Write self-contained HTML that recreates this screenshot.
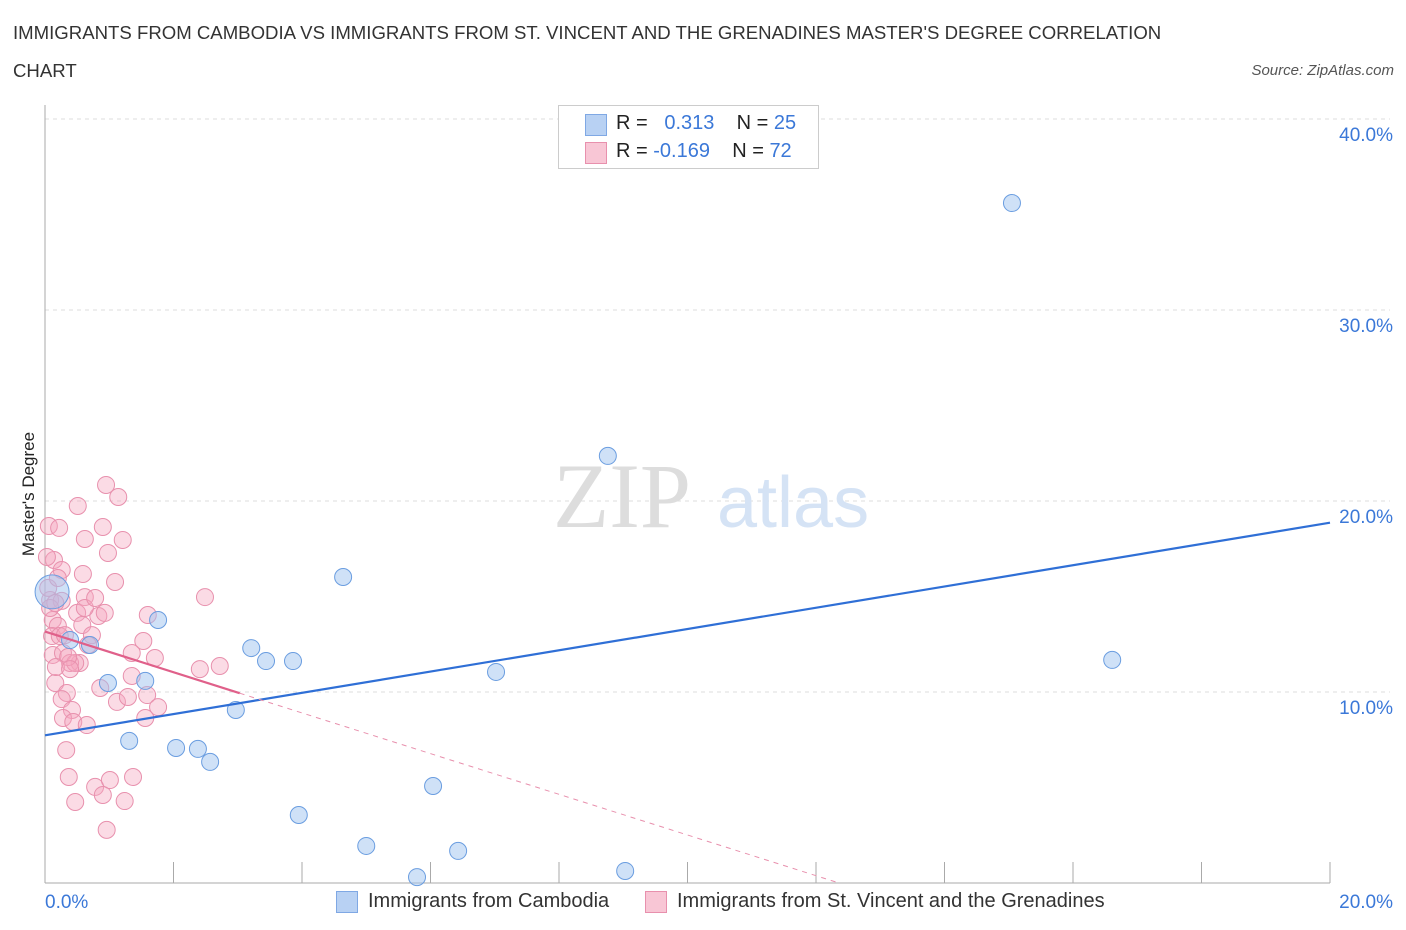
<!DOCTYPE html>
<html><head><meta charset="utf-8"><style>
body{margin:0;background:#fff;font-family:"Liberation Sans",sans-serif;}
#wrap{position:relative;width:1406px;height:930px;overflow:hidden}
.t{position:absolute;white-space:nowrap}
</style></head><body><div id="wrap">
<div class="t" style="left:13px;top:14px;font-size:18.6px;color:#333;line-height:38px">IMMIGRANTS FROM CAMBODIA VS IMMIGRANTS FROM ST. VINCENT AND THE GRENADINES MASTER'S DEGREE CORRELATION<br>CHART</div>
<div class="t" style="right:12px;top:62px;font-size:15px;color:#555;font-style:italic">Source: ZipAtlas.com</div>
<svg id="svg" width="1406" height="930" style="position:absolute;left:0;top:0"></svg>
</div>
<script>
const blueX=[0.11,0.39,0.70,0.98,1.76,1.56,1.31,2.04,2.38,2.57,2.97,3.21,3.44,3.86,4.64,3.95,5.00,5.79,6.04,6.43,7.02,8.76,9.03,15.05,16.61];
const blueY=[15.24,12.72,12.46,10.47,13.77,10.58,7.44,7.07,7.02,6.34,9.06,12.30,11.62,11.62,16.02,3.56,1.94,0.31,5.08,1.68,11.05,22.36,0.63,35.60,11.68];
const pinkX=[0.95,1.14,0.51,0.06,0.22,0.90,0.62,1.21,0.98,0.14,0.26,0.59,1.09,2.49,0.08,0.62,0.26,0.83,1.60,0.50,0.12,0.20,0.58,0.73,0.11,1.53,1.35,1.71,0.12,0.28,0.54,0.39,2.41,2.72,0.16,1.35,0.34,0.26,1.12,1.29,1.59,1.76,0.42,0.28,0.44,0.65,1.56,0.33,0.37,0.78,1.01,1.37,0.90,1.24,0.47,0.96,0.08,0.16,0.23,0.05,0.47,0.36,0.17,0.62,0.93,0.78,0.39,0.03,0.20,0.67,0.31,0.86];
const pinkY=[20.84,20.21,19.74,18.69,18.59,18.64,18.01,17.96,17.28,16.91,16.39,16.18,15.76,14.97,14.82,14.97,14.77,13.98,14.03,14.14,13.77,13.46,13.51,12.98,12.93,12.67,12.04,11.78,11.94,12.04,11.52,11.52,11.20,11.36,10.47,10.84,9.95,9.63,9.48,9.74,9.84,9.21,9.06,8.64,8.43,8.27,8.64,6.96,5.55,5.03,5.39,5.55,4.61,4.29,4.24,2.78,14.40,14.66,12.93,15.45,11.52,11.83,11.31,14.40,14.14,14.92,11.20,17.07,15.97,12.46,12.98,10.21];
const xTicks=[0,20];const yTicks=[10,20,30,40];
const X0=45,X1=1330,Y0=883,PY=19.1;
const sx=v=>X0+(v/20)*(X1-X0), sy=v=>Y0-v*PY;
const svg=document.getElementById('svg');const NS='http://www.w3.org/2000/svg';
function mk(t,a,p){const e=document.createElementNS(NS,t);for(const k in a)e.setAttribute(k,a[k]);(p||svg).appendChild(e);return e;}
yTicks.forEach(v=>{const g=mk('line',{x1:45,x2:1390,y1:sy(v),y2:sy(v),stroke:'#ddd','stroke-dasharray':'4,4'});


const t=mk('text',{x:1393,y:sy(v)+22,'text-anchor':'end','font-size':19,fill:'#3b78d8','font-family':'Liberation Sans'});t.textContent=v.toFixed(1)+'%';

});
mk('line',{x1:45,x2:45,y1:105,y2:883,stroke:'#aaa'});
mk('line',{x1:45,x2:1330,y1:883,y2:883,stroke:'#aaa'});
for(let i=0;i<=10;i++){const x=X0+i*(X1-X0)/10;mk('line',{x1:x,x2:x,y1:862,y2:883,stroke:'#aaa'});}
xTicks.forEach((v,i)=>{const t=mk('text',{x:i?1393:45,y:908,'text-anchor':i?'end':'start','font-size':19,fill:'#3b78d8','font-family':'Liberation Sans'});t.textContent=v.toFixed(1)+'%';

});
const yl=mk('text',{transform:'translate(34,494) rotate(-90)','text-anchor':'middle','font-size':17,fill:'#222','font-family':'Liberation Sans'});yl.textContent="Master's Degree";


const w1=mk('text',{x:553,y:527,'font-size':92,fill:'#ddd','font-family':'Liberation Serif'});w1.textContent='ZIP';


const w2=mk('text',{x:717,y:527,'font-size':72,fill:'#d5e3f5','font-family':'Liberation Sans'});w2.textContent='atlas';


function reg(xs,ys){const n=xs.length;let mx=0,my=0;for(let i=0;i<n;i++){mx+=xs[i];my+=ys[i];}mx/=n;my/=n;let a=0,b=0;for(let i=0;i<n;i++){a+=(xs[i]-mx)*(ys[i]-my);b+=(xs[i]-mx)**2;}const s=a/b;return [my-s*mx,s];}
pinkX.forEach((x,i)=>{const c=mk('circle',{cx:sx(x),cy:sy(pinkY[i]),r:8.5,fill:'rgba(245,165,190,0.4)',stroke:'#e890ad','stroke-width':1});

});
blueX.forEach((x,i)=>{const c=mk('circle',{cx:sx(x),cy:sy(blueY[i]),r:i==0?17:8.5,fill:'rgba(160,195,240,0.5)',stroke:'#6a9de0','stroke-width':1});

});
const [bi,bs]=reg(blueX,blueY);
const bl=mk('line',{x1:sx(0),y1:sy(bi),x2:sx(20),y2:sy(bi+bs*20),stroke:'#2f6fd6','stroke-width':2.2});


const [pi,ps]=reg(pinkX,pinkY);const xe=3.03;const xz=-pi/ps;
const pl=mk('line',{x1:sx(0),y1:sy(pi),x2:sx(xe),y2:sy(pi+ps*xe),stroke:'#e0608a','stroke-width':2.2});


const pd=mk('line',{x1:sx(xe),y1:sy(pi+ps*xe),x2:sx(xz),y2:sy(0),stroke:'#e890ad','stroke-width':1,'stroke-dasharray':'5,5'});


</script>
<div style="position:absolute;left:558px;top:105px;width:259px;height:62px;border:1px solid #ccc;background:#fff;font-size:20px;color:#222">
<div style="position:absolute;left:26px;top:8px;width:20px;height:20px;background:#b8d1f3;border:1px solid #7fa8e4"></div>
<div class="t" style="left:57px;top:6px">R = &nbsp;&nbsp;<span style="color:#3b78d8">0.313</span>&nbsp;&nbsp;&nbsp; N = <span style="color:#3b78d8">25</span></div>
<div style="position:absolute;left:26px;top:36px;width:20px;height:20px;background:#f8c6d5;border:1px solid #e890ad"></div>
<div class="t" style="left:57px;top:34px">R = <span style="color:#3b78d8">-0.169</span>&nbsp;&nbsp;&nbsp; N = <span style="color:#3b78d8">72</span></div>
</div>
<div style="position:absolute;left:0;top:890px;width:1406px;font-size:20px;color:#333">
<div style="position:absolute;left:336px;top:1px;width:20px;height:20px;background:#b8d1f3;border:1px solid #7fa8e4"></div>
<div class="t" style="left:368px;top:0px">Immigrants from Cambodia</div>
<div style="position:absolute;left:645px;top:1px;width:20px;height:20px;background:#f8c6d5;border:1px solid #e890ad"></div>
<div class="t" style="left:677px;top:0px">Immigrants from St. Vincent and the Grenadines</div>
</div>
</body></html>
